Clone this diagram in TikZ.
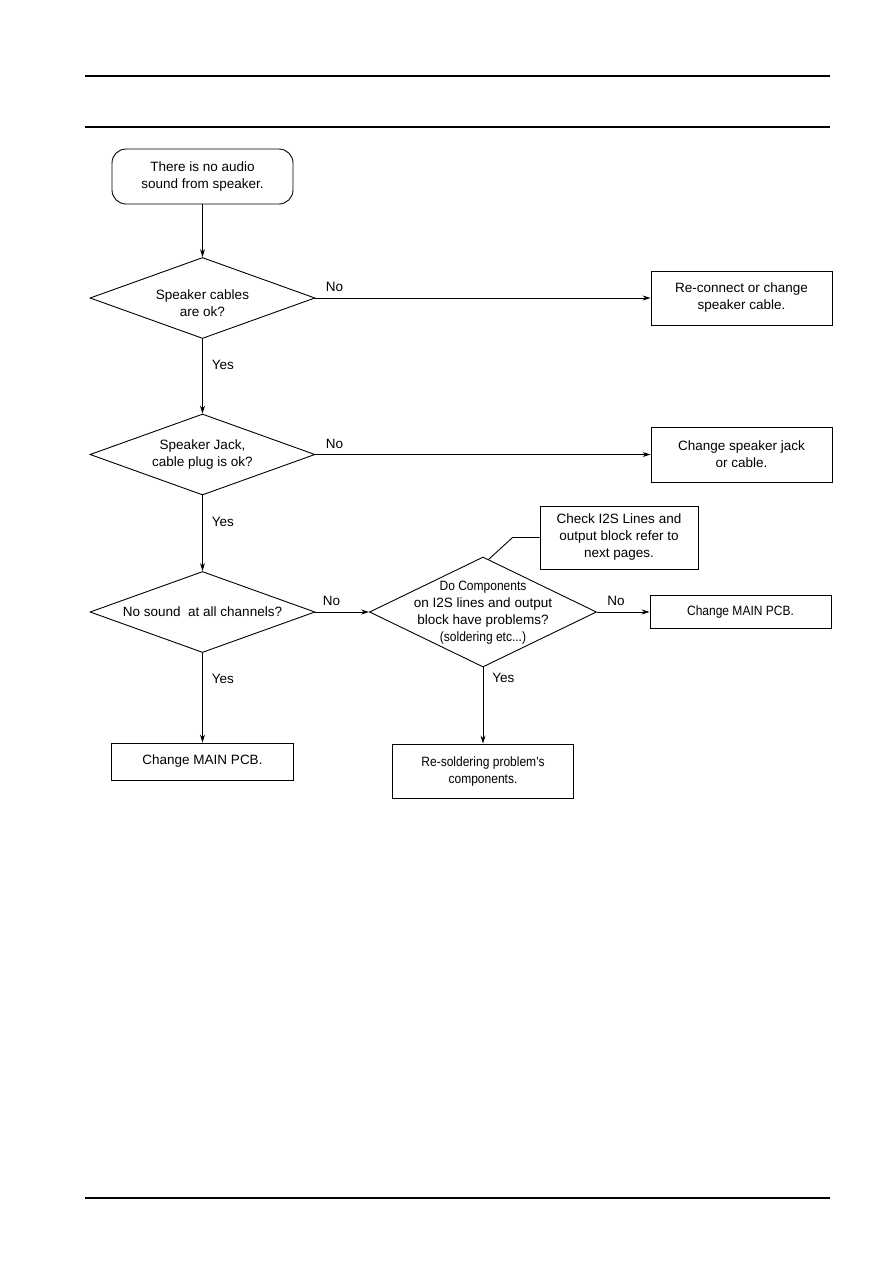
\documentclass[tikz,border=0pt]{standalone}
\usepackage{fontspec}
\setmainfont{Liberation Sans}
\newfontfamily\narrowsf[FakeStretch=0.89]{Liberation Sans}
\usetikzlibrary{positioning,arrows.meta,shapes.geometric,calc}

\begin{document}
\begin{tikzpicture}[
    x=1pt, y=-1pt,
    line width=0.9pt,
    every node/.style={font=\fontsize{13.5}{17}\selectfont},
    narrowtext/.style={font=\narrowsf\fontsize{13.5}{17}\selectfont},
    startbox/.style={rectangle,rounded corners=14pt,draw,
                  minimum width=181pt,minimum height=55pt,align=center},
    decision/.style={diamond,draw,inner sep=0pt,aspect=2.78,
                  minimum width=225pt,minimum height=81pt,align=center},
    action/.style={rectangle,draw,minimum width=181pt,
                  minimum height=54pt,align=center},
    arrow/.style={-{Stealth[length=8pt,width=5pt]}},
    nolabel/.style={anchor=south west,inner sep=0pt,yshift=5.5pt},
    yeslabel/.style={anchor=west,inner sep=0pt,xshift=9pt}
]
\useasboundingbox (0,0) rectangle (893,1263);

% page rules
\draw[line width=1.2pt] (85,76) -- (830,76);
\draw[line width=1.2pt] (85,127) -- (830,127);
\draw[line width=1.2pt] (85,1198) -- (830,1198);

\node[startbox] (start) at (202.5,176.5) {There is no audio\\sound from speaker.};
\node[decision] (cables) at (202.5,298) {\rule{0pt}{20pt}Speaker cables\\are ok?};
\node[action] (fixcable) at (741.5,298) {Re-connect or change\\speaker cable.};
\node[decision] (jack) at (202.5,454.5) {Speaker Jack,\\cable plug is ok?};
\node[action,minimum height=55pt] (fixjack) at (741.5,454.5) {Change speaker jack\\or cable.};
\node[decision] (channels) at (202.5,612) {No sound\ \ at all channels?};
\node[decision,minimum width=227pt,minimum height=110pt] (parts) at (483,612) {};
\node[align=center] (partstext) at (483,613) {{\narrowsf Do Components}\\on I2S lines and output\\block have problems?\\{\narrowsf(soldering etc...)}};
\node[action,minimum height=33pt,narrowtext] (pcbright) at (740.5,612) {Change MAIN PCB.};
\node[action,minimum width=158pt,minimum height=63pt] (note) at (619,537.5) {Check I2S Lines and\\output block refer to\\next pages.};
\node[action,minimum width=182pt,minimum height=37pt] (pcbleft) at (202.5,761.5) {Change MAIN PCB.};
\node[action,narrowtext] (resolder) at (483,771) {Re-soldering problem's\\components.};

\draw[arrow] (start) -- (cables);
\draw[arrow] (cables) -- node[pos=0,nolabel,xshift=10pt]{No} (fixcable);
\draw[arrow] (cables) -- node[pos=0.35,yeslabel]{Yes} (jack);
\draw[arrow] (jack) -- node[pos=0,nolabel,xshift=10pt]{No} (fixjack);
\draw[arrow] (jack) -- node[pos=0.35,yeslabel]{Yes} (channels);
\draw[arrow] (channels) -- node[pos=0,nolabel,xshift=7pt]{No} (parts);
\draw[arrow] (channels) -- node[pos=0.29,yeslabel]{Yes} (pcbleft);
\draw[arrow] (parts) -- node[pos=0,nolabel,xshift=10pt]{No} (pcbright);
\draw[arrow] (parts) -- node[pos=0.14,yeslabel]{Yes} (resolder);
\draw ($(parts.north)!0.05!(parts.east)$) -- ([xshift=-27pt]note.west) -- (note.west);
\end{tikzpicture}
\end{document}
